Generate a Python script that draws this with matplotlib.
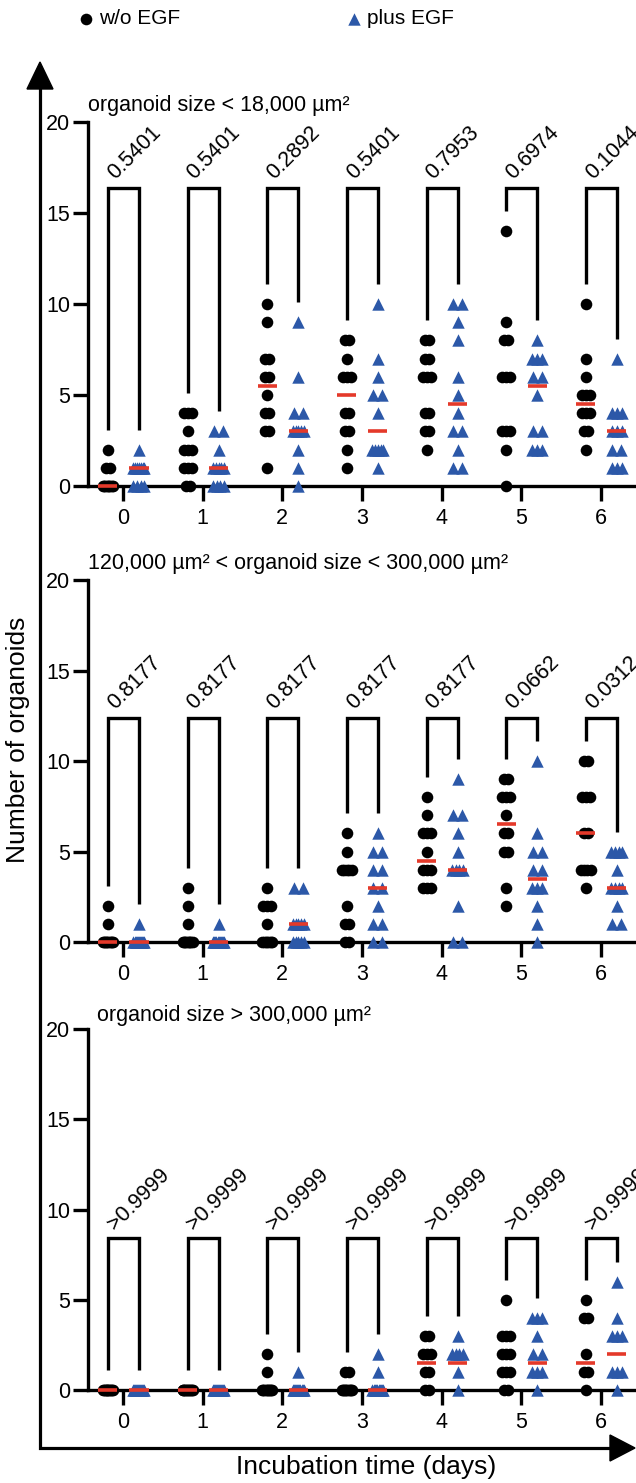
import numpy as np
import matplotlib
matplotlib.use("Agg")
import matplotlib.pyplot as plt
from matplotlib.patches import Polygon

plt.rcParams['font.family'] = ['Liberation Sans', 'DejaVu Sans']

days = [0, 1, 2, 3, 4, 5, 6]
nan = np.nan

# organoid size < 18,000 um2
small_wo = [
    [0, 0, 0, 0, 0, 0, 0, 0, 0, 1, 1, 2],
    [0, 0, 1, 1, 1, 2, 2, 2, 3, 4, 4, 4],
    [1, 3, 3, 4, 4, 5, 6, 6, 7, 7, 9, 10],
    [1, 2, 3, 3, 4, 4, 6, 6, 6, 7, 8, 8],
    [2, 3, 3, 4, 4, 6, 6, 6, 7, 7, 8, 8],
    [0, 2, 3, 3, 3, 6, 6, 6, 8, 8, 9, 14],
    [2, 3, 3, 4, 4, 4, 5, 5, 5, 6, 7, 10],
]
small_egf = [
    [0, 0, 0, 0, 1, 1, 1, 1, 1, 1, 1, 2],
    [0, 0, 0, 0, 1, 1, 1, 1, 1, 2, 3, 3],
    [0, 1, 2, 3, 3, 3, 3, 3, 4, 4, 6, 9],
    [1, 2, 2, 2, 2, 2, 4, 5, 5, 6, 7, 10],
    [1, 1, 2, 3, 3, 4, 5, 6, 8, 9, 10, 10],
    [2, 2, 2, 3, 3, 5, 6, 6, 7, 7, 7, 8],
    [1, 1, 1, 2, 2, 3, 3, 3, 4, 4, 4, 7],
]
small_med_wo = [0, nan, 5.5, 5, nan, nan, 4.5]
small_med_egf = [1, 1, 3, 3, 4.5, 5.5, 3]
small_p = ['0.5401', '0.5401', '0.2892', '0.5401', '0.7953', '0.6974', '0.1044']

# 120,000 um2 < organoid size < 300,000 um2
mid_wo = [
    [0, 0, 0, 0, 0, 0, 0, 0, 0, 0, 1, 2],
    [0, 0, 0, 0, 0, 0, 0, 0, 0, 1, 2, 3],
    [0, 0, 0, 0, 0, 0, 0, 1, 2, 2, 2, 3],
    [0, 0, 1, 1, 2, 4, 4, 4, 4, 4, 5, 6],
    [3, 3, 3, 4, 4, 4, 5, 6, 6, 6, 7, 8],
    [2, 3, 5, 5, 6, 6, 7, 8, 8, 8, 9, 9],
    [3, 4, 4, 4, 4, 6, 6, 8, 8, 8, 10, 10],
]
mid_egf = [
    [0, 0, 0, 0, 0, 0, 0, 0, 0, 0, 0, 1],
    [0, 0, 0, 0, 0, 0, 0, 0, 0, 0, 0, 1],
    [0, 0, 0, 0, 0, 1, 1, 1, 1, 1, 3, 3],
    [0, 0, 1, 1, 2, 3, 3, 4, 4, 5, 5, 6],
    [0, 0, 2, 4, 4, 4, 4, 5, 6, 7, 7, 9],
    [0, 1, 2, 3, 3, 3, 4, 4, 5, 5, 6, 10],
    [1, 1, 2, 3, 3, 3, 3, 4, 5, 5, 5, 5],
]
mid_med_wo = [0, nan, nan, nan, 4.5, 6.5, 6]
mid_med_egf = [0, 0, 1, 3, 4, 3.5, 3]
mid_p = ['0.8177', '0.8177', '0.8177', '0.8177', '0.8177', '0.0662', '0.0312']

# organoid size > 300,000 um2
large_wo = [
    [0, 0, 0, 0, 0, 0, 0, 0, 0, 0, 0, 0],
    [0, 0, 0, 0, 0, 0, 0, 0, 0, 0, 0, 0],
    [0, 0, 0, 0, 0, 0, 0, 0, 0, 0, 1, 2],
    [0, 0, 0, 0, 0, 0, 0, 0, 0, 0, 1, 1],
    [0, 0, 1, 1, 2, 2, 2, 3, 3],
    [0, 0, 1, 1, 1, 2, 2, 2, 3, 3, 3, 5],
    [0, 1, 1, 2, 4, 4, 5],
]
large_egf = [
    [0, 0, 0, 0, 0, 0, 0, 0, 0, 0, 0, 0],
    [0, 0, 0, 0, 0, 0, 0, 0, 0, 0, 0, 0],
    [0, 0, 0, 0, 0, 0, 0, 0, 0, 0, 0, 1],
    [0, 0, 0, 0, 0, 0, 0, 0, 0, 0, 1, 2],
    [0, 1, 2, 2, 2, 2, 3],
    [0, 1, 1, 1, 2, 2, 3, 4, 4, 4],
    [0, 1, 1, 1, 3, 3, 3, 4, 6],
]
large_med_wo = [0, 0, nan, nan, 1.5, nan, 1.5]
large_med_egf = [0, 0, 0, 0, 1.5, 1.5, 2]
large_p = ['>0.9999'] * 7

BLUE = '#2C58A8'
RED = '#E4392A'
PX = 79.7  # pixels per day


def spread(vals, hw):
    vals = np.asarray(vals, float)
    off = np.zeros(len(vals))
    for v in np.unique(vals):
        idx = np.where(vals == v)[0]
        k = len(idx)
        if k > 1:
            h = hw[min(k, 4)] / PX
            off[idx] = np.linspace(-h, h, k)
    return off


def panel(rect, wo, egf, med_wo, med_egf, pvals, bar):
    ax = fig.add_axes(rect)
    ax.set_xlim(-0.44, 6.44)
    ax.set_ylim(0, 20)
    for s in ['top', 'right']:
        ax.spines[s].set_visible(False)
    for s in ['left', 'bottom']:
        ax.spines[s].set_linewidth(2.4)
    ax.set_yticks([0, 5, 10, 15, 20])
    ax.set_xticks(days)
    ax.tick_params(axis='y', length=11, width=2.4, labelsize=15.5, pad=2)
    ax.tick_params(axis='x', length=11, width=2.4, labelsize=15.5, pad=5)
    for d in days:
        xl, xr = d - 0.19, d + 0.20
        a, b = wo[d], egf[d]
        ax.scatter(xl + spread(a, {2: 2, 3: 4, 4: 5}), a, s=70, marker='o',
                   color='k', linewidths=0, zorder=5, clip_on=False)
        ax.scatter(xr + spread(b, {2: 4.5, 3: 5, 4: 5.5}), b, s=80, marker='^',
                   color=BLUE, linewidths=0, zorder=5, clip_on=False)
        for x0, m in [(xl, med_wo[d]), (xr, med_egf[d])]:
            if not np.isnan(m):
                ax.plot([x0 - 0.12, x0 + 0.12], [m, m], color=RED, lw=2.6,
                        solid_capstyle='butt', zorder=6, clip_on=False)
        ax.plot([xl, xl, xr, xr], [max(a) + 1.1, bar, bar, max(b) + 1.1],
                color='k', lw=2.4, solid_joinstyle='miter', solid_capstyle='butt')
        ax.text(xl + 0.13, bar + 0.2, pvals[d], rotation=45, rotation_mode='anchor',
                ha='left', va='bottom', fontsize=15.5, clip_on=False)
    return ax


W, H = 636, 1483
fig = plt.figure(figsize=(W / 100, H / 100), dpi=100)

ov = fig.add_axes([0, 0, 1, 1])
ov.set_xlim(0, W)
ov.set_ylim(H, 0)
ov.axis('off')

# outer arrows
ov.plot([40, 40, 614], [84, 1448, 1448], color='k', lw=2.3, solid_joinstyle='miter')
ov.add_patch(Polygon([[40, 62], [27, 89], [53, 89]], closed=True, color='k'))
ov.add_patch(Polygon([[635, 1448], [610, 1435], [610, 1461]], closed=True, color='k'))

# legend
ov.scatter([86], [19], s=70, marker='o', color='k', linewidths=0)
ov.text(99, 19, 'w/o EGF', va='center', fontsize=15)
ov.scatter([354], [19], s=80, marker='^', color=BLUE, linewidths=0)
ov.text(367, 19, 'plus EGF', va='center', fontsize=15)

# titles and labels
ov.text(88, 106, 'organoid size < 18,000 µm²', va='center', fontsize=15.5)
ov.text(88, 563, '120,000 µm² < organoid size < 300,000 µm²', va='center', fontsize=15.5)
ov.text(97, 1016, 'organoid size > 300,000 µm²', va='center', fontsize=15.5)
ov.text(18, 740, 'Number of organoids', rotation=90, ha='center', va='center', fontsize=19)
ov.text(366, 1467, 'Incubation time (days)', ha='center', va='center', fontsize=19)


def rect(top, bottom):
    return [88 / W, (H - bottom) / H, 1 - 88 / W, (bottom - top) / H]


panel(rect(122, 486), small_wo, small_egf, small_med_wo, small_med_egf, small_p, 16.4)
panel(rect(580, 942), mid_wo, mid_egf, mid_med_wo, mid_med_egf, mid_p, 12.4)
panel(rect(1029, 1390), large_wo, large_egf, large_med_wo, large_med_egf, large_p, 8.4)

fig.savefig('out.png', dpi=100)
